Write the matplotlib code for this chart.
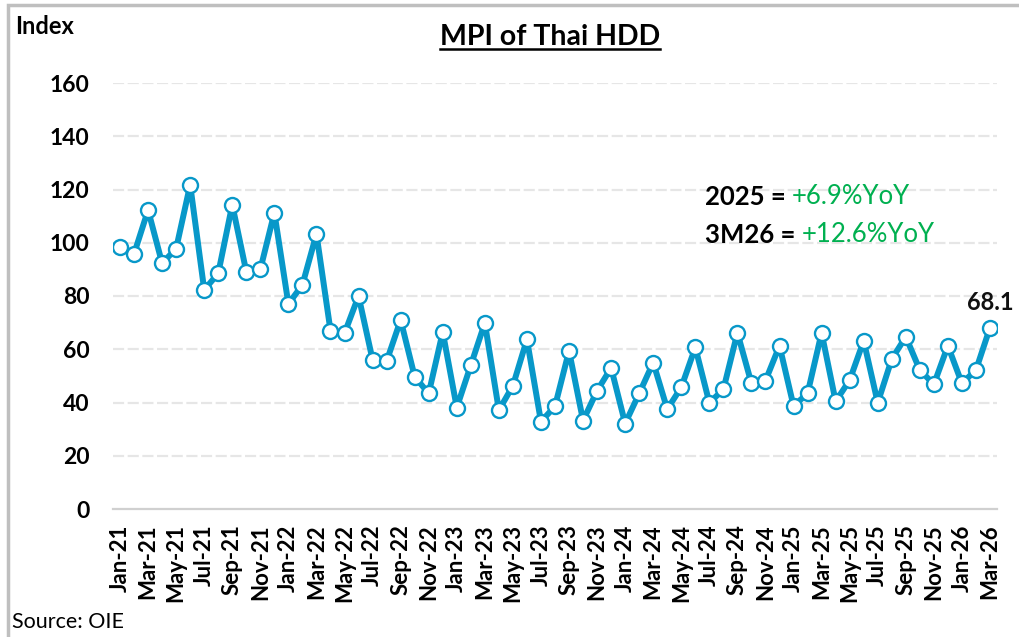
import matplotlib
matplotlib.use("Agg")
import matplotlib.pyplot as plt
from matplotlib.lines import Line2D
from matplotlib.patches import Rectangle

plt.rcParams['font.family'] = ['Lato', 'DejaVu Sans']

months = ["Jan", "Feb", "Mar", "Apr", "May", "Jun", "Jul", "Aug", "Sep", "Oct", "Nov", "Dec"]
years = ["21", "22", "23", "24", "25", "26"]
categories = [f"{m}-{y}" for y in years for m in months][:63]

mpi_values = [
    98.3, 95.8, 112.3, 92.3, 97.8, 121.8, 82.3, 88.5, 114.3, 89.1, 90.0, 111.3,
    77.0, 84.2, 103.3, 67.0, 66.0, 80.0, 56.0, 55.5, 71.0, 49.7, 43.4, 66.5,
    38.1, 54.0, 69.9, 37.1, 46.3, 63.7, 32.8, 38.6, 59.4, 33.2, 44.4, 53.0,
    32.1, 43.4, 55.0, 37.5, 45.7, 60.7, 39.9, 44.9, 66.2, 47.2, 48.2, 61.3,
    38.7, 43.4, 66.2, 40.4, 48.4, 63.2, 39.9, 56.3, 64.7, 52.2, 46.8, 61.3,
    47.2, 52.2, 68.1,
]
y_ticks = [0, 20, 40, 60, 80, 100, 120, 140, 160]

title_text = "MPI of Thai HDD"
y_label = "Index"
source_text = "Source: OIE"
note_lines = [("2025 = ", "+6.9%YoY"), ("3M26 = ", "+12.6%YoY")]
last_label = "68.1"

W, H = 1019, 637
fig = plt.figure(figsize=(W / 100, H / 100), dpi=100)
fig.patch.set_facecolor("white")

ax = fig.add_axes([113 / W, 1 - 509 / H, 884 / W, (509 - 83) / H])
x = list(range(len(categories)))
line_color = "#0898C9"
ax.plot(x, mpi_values, color=line_color, lw=4.3, marker="o", ms=10.8,
        mfc="white", mec=line_color, mew=1.7, zorder=3,
        solid_joinstyle="round", solid_capstyle="round")

ax.set_xlim(-0.5, len(categories) - 0.5)
ax.set_ylim(0, 160)
ax.set_yticks(y_ticks)
ax.set_yticklabels([str(v) for v in y_ticks], fontsize=16.5, fontweight="bold")
ax.set_xticks(x[::2])
ax.set_xticklabels(categories[::2], rotation=90, fontsize=16, fontweight="bold")
ax.tick_params(axis="both", length=0)
ax.tick_params(axis="y", pad=17)
ax.tick_params(axis="x", pad=11)

for v in y_ticks[1:]:
    ax.axhline(v, color="#E6E6E6", lw=1.6, ls=(0, (5, 1.6)), zorder=1)
for s in ["top", "right", "left"]:
    ax.spines[s].set_visible(False)
ax.spines["bottom"].set_color("#D0D0D0")
ax.spines["bottom"].set_linewidth(1.6)

ax.annotate(last_label, (x[-1], mpi_values[-1]), xytext=(0, 10), textcoords="offset points",
            ha="center", va="bottom", fontsize=17, fontweight="bold", color="#111111")

# notes
note_y = [1 - 197 / H, 1 - 235 / H]
for (lead, val), yy in zip(note_lines, note_y):
    t1 = fig.text(705 / W, yy, lead, fontsize=18.5, fontweight="bold", color="black", va="center", ha="left")
    fig.canvas.draw()
    bb = t1.get_window_extent()
    fig.text(bb.x1 / W, yy, val, fontsize=18.5, color="#00B050", va="center", ha="left")

fig.text(15 / W, 1 - 27 / H, y_label, fontsize=17, fontweight="bold", va="center", ha="left")
fig.text(12 / W, 1 - 622 / H, source_text, fontsize=15.5, va="center", ha="left")

title = fig.text(550 / W, 1 - 37 / H, title_text, fontsize=20.5, fontweight="bold", va="center", ha="center")
fig.canvas.draw()
tb = title.get_window_extent()
fig.add_artist(Line2D([tb.x0 / W, tb.x1 / W], [(tb.y0 + 1) / H, (tb.y0 + 1) / H], color="black", lw=1.8,
                      transform=fig.transFigure))

# outer border
fig.add_artist(Rectangle((8 / W, -0.02), 1.1, 1 - 5 / H + 0.02, transform=fig.transFigure,
                         fill=False, edgecolor="#BFBFBF", lw=2.5))

fig.savefig("out.png", dpi=100)
